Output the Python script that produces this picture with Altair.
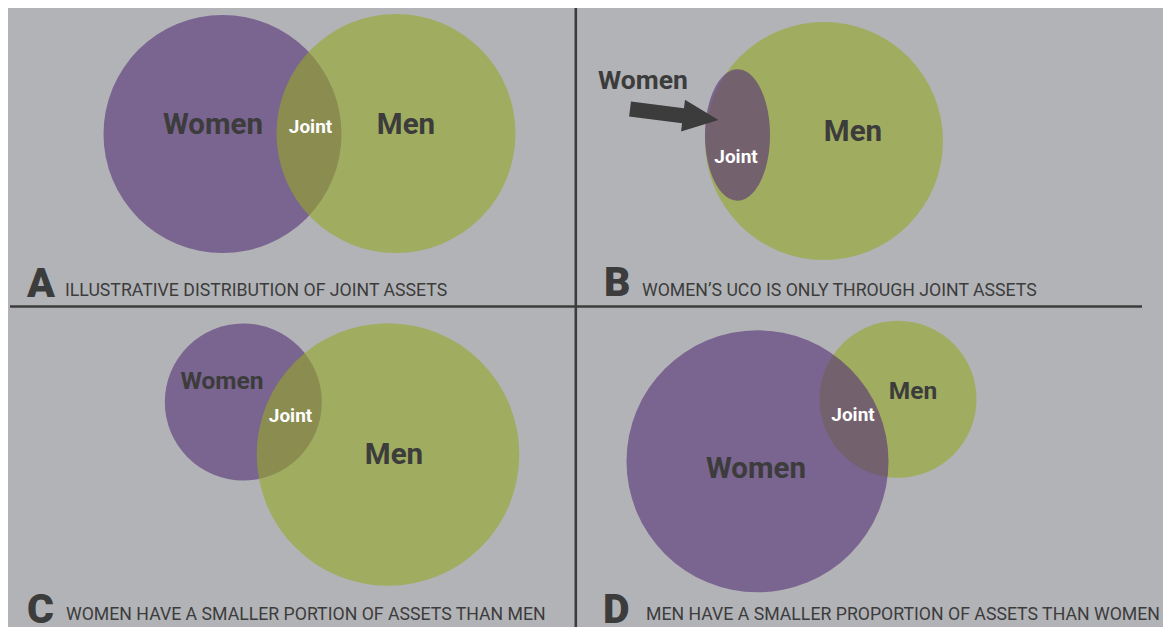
import altair as alt
import pandas as pd

# ---------------- data ----------------
panel_letters = ["A", "B", "C", "D"]
panel_captions = [
    "ILLUSTRATIVE DISTRIBUTION OF JOINT ASSETS",
    "WOMEN\u2019S UCO IS ONLY THROUGH JOINT ASSETS",
    "WOMEN HAVE A SMALLER PORTION OF ASSETS THAN MEN",
    "MEN HAVE A SMALLER PROPORTION OF ASSETS THAN WOMEN",
]
letter_x = [27, 604, 27, 603]
letter_y = [297, 296, 623, 623]
caption_x = [65, 642, 66, 646]
caption_y = [296, 296, 620, 620]

# sets, in drawing order (later drawn on top)
set_panel = ["A", "A", "B", "B", "C", "C", "D", "D"]
set_name = ["Women", "Men", "Men", "Women", "Women", "Men", "Men", "Women"]
set_cx = [222.5, 396.0, 824.0, 737.5, 243.3, 388.0, 898.0, 757.5]
set_cy = [134.0, 133.5, 141.0, 135.0, 402.0, 454.5, 399.2, 461.3]
set_rx = [119.0, 119.5, 119.0, 32.5, 78.5, 131.3, 78.5, 131.0]
set_ry = [119.0, 119.5, 119.0, 65.7, 78.5, 131.3, 78.5, 131.0]

label_text = ["Women", "Joint", "Men",
              "Women", "Joint", "Men",
              "Women", "Joint", "Men",
              "Women", "Joint", "Men"]
label_x = [213, 310.5, 406, 643, 736, 853, 222, 290.5, 394, 756, 853, 913]
label_y = [134, 133, 134, 89, 163, 141, 389, 422, 464, 478, 421, 399]
label_size = [29.5, 19, 29.5, 26.5, 19, 29.5, 24.5, 19, 29.5, 29.5, 19, 24.5]

# arrow in panel B (pointing at the Women ellipse)
arrow_cx = [674.2]
arrow_cy = [114.6]
arrow_len = [89.0]
arrow_angle = 7.1

# divider lines
div_x = [575.8, 10]
div_x2 = [575.8, 1142]
div_y = [7, 306.5]
div_y2 = [640, 306.5]

# ---------------- styling ----------------
BG = "#b2b3b7"
DARK = "#3c3c3c"
PURPLE = "#552f76"
GREEN = "#94a726"
FONT = "Roboto"

W, H = 1155, 619
xs = alt.Scale(domain=[8, 8 + W], nice=False, zero=False)
ys = alt.Scale(domain=[8, 8 + H], nice=False, zero=False, reverse=True)


def ellipse_path(ratio):
    if abs(ratio - 1) < 1e-6:
        return "circle"
    a = round(ratio, 4)
    return f"M{-a},0 A{a},1 0 1,0 {a},0 A{a},1 0 1,0 {-a},0 Z"


sets = pd.DataFrame({
    "panel": set_panel, "name": set_name, "cx": set_cx, "cy": set_cy,
    "rx": set_rx, "ry": set_ry,
})
sets["order"] = range(len(sets))
sets["size"] = (2 * sets["ry"]) ** 2
sets["shape"] = [ellipse_path(a / b) for a, b in zip(set_rx, set_ry)]
sets["color"] = [PURPLE if n == "Women" else GREEN for n in set_name]

circles = alt.Chart(sets).mark_point(filled=True, opacity=0.6, strokeWidth=0).encode(
    x=alt.X("cx:Q", scale=xs, axis=None),
    y=alt.Y("cy:Q", scale=ys, axis=None),
    size=alt.Size("size:Q", scale=None, legend=None),
    shape=alt.Shape("shape:N", scale=None, legend=None),
    color=alt.Color("color:N", scale=None, legend=None),
    order=alt.Order("order:Q"),
)

arrow_df = pd.DataFrame({"x": arrow_cx, "y": arrow_cy, "len": arrow_len})
arrow_df["size"] = arrow_df["len"] ** 2
arrow = alt.Chart(arrow_df).mark_point(
    filled=True, opacity=1, strokeWidth=0, color=DARK, angle=arrow_angle,
    shape="M-1,-0.17 L0.2,-0.17 L0.2,-0.36 L1,0 L0.2,0.36 L0.2,0.17 L-1,0.17 Z",
).encode(
    x=alt.X("x:Q", scale=xs, axis=None),
    y=alt.Y("y:Q", scale=ys, axis=None),
    size=alt.Size("size:Q", scale=None, legend=None),
)

labels = pd.DataFrame({"text": label_text, "x": label_x, "y": label_y, "size": label_size})
labels["color"] = ["white" if t == "Joint" else DARK for t in label_text]
label_layer = alt.Chart(labels).mark_text(
    font=FONT, fontWeight="bold", align="center", baseline="alphabetic"
).encode(
    x=alt.X("x:Q", scale=xs, axis=None),
    y=alt.Y("y:Q", scale=ys, axis=None),
    text="text:N",
    size=alt.Size("size:Q", scale=None, legend=None),
    color=alt.Color("color:N", scale=None, legend=None),
)

letters = pd.DataFrame({"text": panel_letters, "x": letter_x, "y": letter_y})
letter_layer = alt.Chart(letters).mark_text(
    font=FONT, fontWeight=900, fontSize=41, align="left", baseline="alphabetic", color=DARK
).encode(
    x=alt.X("x:Q", scale=xs, axis=None),
    y=alt.Y("y:Q", scale=ys, axis=None),
    text="text:N",
)

caps = pd.DataFrame({"text": panel_captions, "x": caption_x, "y": caption_y})
caption_layer = alt.Chart(caps).mark_text(
    font=FONT, fontWeight="normal", fontSize=17.7, align="left", baseline="alphabetic", color=DARK
).encode(
    x=alt.X("x:Q", scale=xs, axis=None),
    y=alt.Y("y:Q", scale=ys, axis=None),
    text="text:N",
)

divs = pd.DataFrame({"x": div_x, "x2": div_x2, "y": div_y, "y2": div_y2})
div_layer = alt.Chart(divs).mark_rule(color=DARK, strokeWidth=2.6).encode(
    x=alt.X("x:Q", scale=xs, axis=None),
    x2="x2:Q",
    y=alt.Y("y:Q", scale=ys, axis=None),
    y2="y2:Q",
)

chart = alt.layer(
    div_layer, circles, arrow, label_layer, letter_layer, caption_layer
).properties(
    width=W, height=H, padding=0, autosize=alt.AutoSizeParams(type="none"),
    background=BG,
).configure_view(stroke=None)

chart.save("out.html", embed_options={"renderer": "svg", "actions": False})
